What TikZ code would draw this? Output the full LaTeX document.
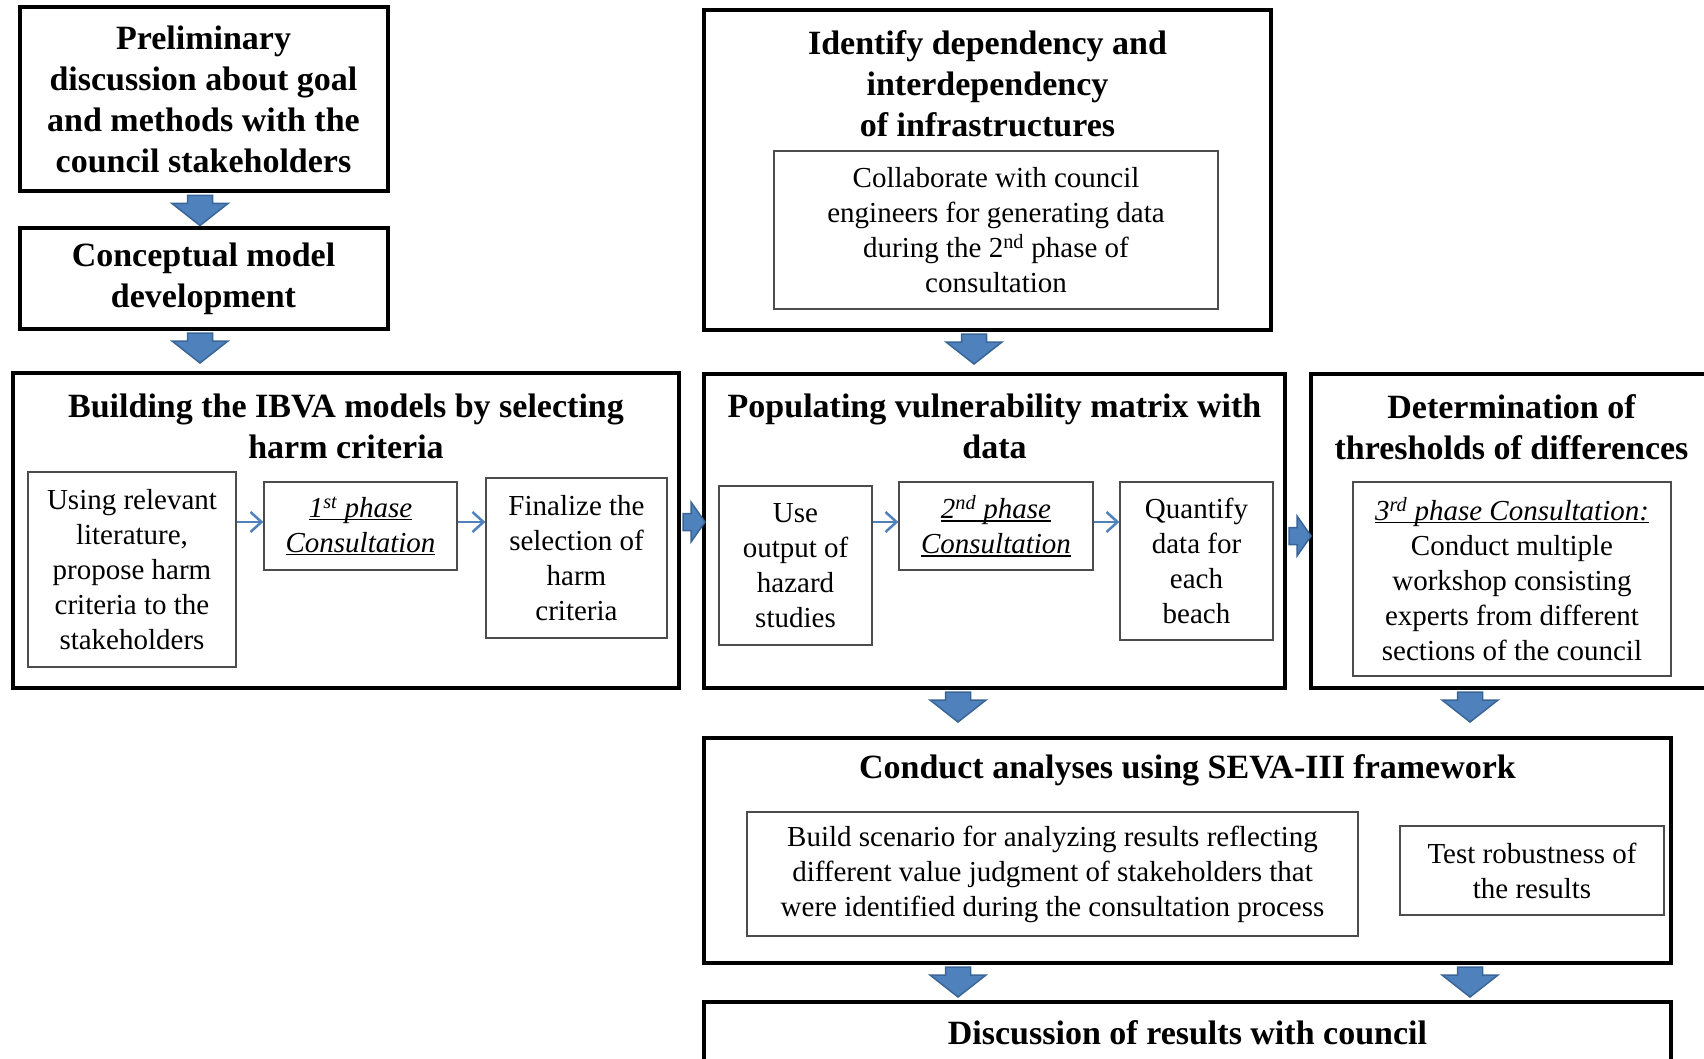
\documentclass[tikz,border=0pt]{standalone}
\usepackage{fontspec}
\setmainfont{Liberation Serif}
\usetikzlibrary{calc,arrows.meta}

\definecolor{arrowfill}{HTML}{4F81BD}
\definecolor{arrowline}{HTML}{3A6597}

\newcommand\hdfont{\fontsize{34}{40.8}\selectfont\bfseries}
\newcommand\bdfont{\fontsize{29}{35}\selectfont}

% underline sitting just below the baseline
\newsavebox\ulbox
\newcommand\ulph[1]{\leavevmode\sbox\ulbox{#1}\rlap{\usebox\ulbox}\rule[-3pt]{\wd\ulbox}{1.3pt}}

\begin{document}
\begin{tikzpicture}[x=1pt,y=-1pt,
  size/.style 2 args={minimum width=#1pt, minimum height=#2pt},
  outer/.style={draw, line width=4pt, inner sep=0pt, fill=white, align=center},
  inner/.style={draw=black!70, line width=1.3pt, inner sep=0pt, fill=white, align=center, font=\bdfont},
  heading/.style={inner sep=0pt, align=center, font=\hdfont},
  flow/.style={draw=arrowfill, line width=2.5pt, -{Straight Barb[length=11pt,width=20pt,line width=2.5pt]}},
  blk/.style={fill=arrowfill, draw=arrowline, line width=1.5pt, line join=miter},
  downblk/.pic={\path[blk] (-12.5,0) -- (-12.5,8) -- (-28,8) -- (0,30) -- (28,8) -- (12.5,8) -- (12.5,0) -- cycle;},
  rightblk/.pic={\path[blk] (0,-8.5) -- (8,-8.5) -- (8,-20) -- (22,0) -- (8,20) -- (8,8.5) -- (0,8.5) -- cycle;}
]
\useasboundingbox (0,0) rectangle (1704,1059);
\fill[white] (0,0) rectangle (1704,1059);

% left column
\node[outer, size={368}{184.5}, font=\hdfont] (prelim) at (203.5,99.25)
  {Preliminary\\ discussion about goal\\ and methods with the\\ council stakeholders};
\node[outer, size={368}{101}, font=\hdfont] (concept) at (203.5,278.5)
  {Conceptual model\\ development};

% building the models
\node[outer, size={666}{315}] (build) at (346,530.5) {};
\node[heading] (buildT) at (346,426) {Building the IBVA models by selecting\\ harm criteria};
\node[inner, size={208}{195}] (using) at (132,569.5)
  {Using relevant\\ literature,\\ propose harm\\ criteria to the\\ stakeholders};
\node[inner, size={193}{88}] (phase1) at (360.5,526)
  {\ulph{\itshape 1\textsuperscript{st} phase}\\ \ulph{\itshape Consultation}};
\node[inner, size={181}{160}] (final) at (576.5,558)
  {Finalize the\\ selection of\\ harm\\ criteria};

% dependencies
\node[outer, size={567}{320}] (ident) at (987.5,170) {};
\node[heading] (identT) at (987.5,84) {Identify dependency and\\ interdependency\\ of infrastructures};
\node[inner, size={444}{158}] (collab) at (996,230)
  {Collaborate with council\\ engineers for generating data\\ during the 2\textsuperscript{nd} phase of\\ consultation};

% vulnerability matrix
\node[outer, size={581}{314}] (pop) at (994.5,531) {};
\node[heading] (popT) at (994.5,426) {Populating vulnerability matrix with\\ data};
\node[inner, size={153}{159}] (use) at (795.5,565.5)
  {Use\\ output of\\ hazard\\ studies};
\node[inner, size={194}{88}] (phase2) at (996,526)
  {\ulph{\itshape 2\textsuperscript{nd} phase}\\ \ulph{\itshape Consultation}};
\node[inner, size={153}{158}] (quant) at (1196.5,561)
  {Quantify\\ data for\\ each\\ beach};

% thresholds
\node[outer, size={401}{314}] (thresh) at (1511.5,531) {};
\node[heading] (threshT) at (1511.5,427) {Determination of\\ thresholds of differences};
\node[inner, size={318}{194}] (phase3) at (1512,579)
  {\ulph{\itshape 3\textsuperscript{rd} phase Consultation:}\\ Conduct multiple\\ workshop consisting\\ experts from different\\ sections of the council};

% analyses
\node[outer, size={967}{225}] (conduct) at (1187.5,850.5) {};
\node[heading] (conductT) at (1187.5,770) {Conduct analyses using SEVA-III framework};
\node[inner, size={611}{124}] (scen) at (1052.5,874)
  {Build scenario for analyzing results reflecting\\ different value judgment of stakeholders that\\ were identified during the consultation process};
\node[inner, size={264}{89}] (robust) at (1532,870.5)
  {Test robustness of\\ the results};

% discussion
\node[outer, size={967}{73}] (disc) at (1187.5,1038.5) {};
\node[heading] (discT) at (1187.5,1033) {Discussion of results with council};

% thin flow arrows inside the boxes
\coordinate (f1) at ([yshift=4pt]phase1.west);
\draw[flow] (using.east |- f1) -- (f1);
\draw[flow] ([yshift=4pt]phase1.east) -- (final.west |- f1);
\coordinate (f2) at ([yshift=4pt]phase2.west);
\draw[flow] (use.east |- f2) -- (f2);
\draw[flow] ([yshift=4pt]phase2.east) -- (quant.west |- f2);

% block arrows between the stages
\coordinate (colA) at ($(pop.south)+(-36.5,0)$);
\coordinate (colB) at ($(thresh.south)+(-41.5,0)$);
\pic at ($(prelim.south)+(-3.5,2)$) {downblk};
\pic at ($(concept.south)+(-3.5,2)$) {downblk};
\pic at ($(ident.south)+(-13.5,2)$) {downblk};
\pic at ($(colA)+(0,2)$) {downblk};
\pic at ($(colB)+(0,2)$) {downblk};
\pic at ($(colA |- conduct.south)+(0,2)$) {downblk};
\pic at ($(colB |- conduct.south)+(0,2)$) {downblk};
\pic at ($(build.east)+(2,-8.5)$) {rightblk};
\pic at ($(pop.east)+(2,5)$) {rightblk};
\end{tikzpicture}
\end{document}
